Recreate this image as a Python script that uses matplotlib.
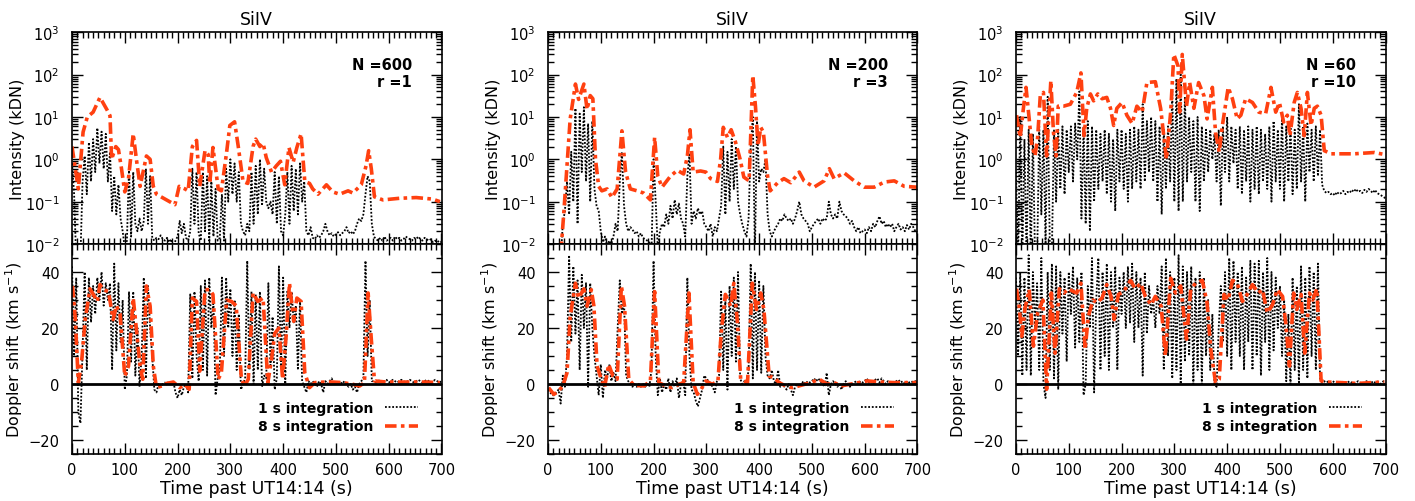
import numpy as np
import matplotlib.pyplot as plt
from matplotlib.ticker import MultipleLocator, LogLocator, FuncFormatter, NullFormatter

plt.rcParams['font.family'] = ['DejaVu Sans']
plt.rcParams['mathtext.fontset'] = 'dejavusans'

RED = '#ff4010'

# ---- panel labels ----
N_vals = [600, 200, 60]
r_vals = [1, 3, 10]

# ---- 1 s integration (sampled every 4 s, 0..700 s) ----
int1_1s = [0.8, 0.15, 0.004, 0.004, 0.005, 0.3, 1.2, 0.15, 2.5, 0.3,
           3, 0.5, 5.5, 0.8, 4.5, 0.6, 4, 0.3, 1.5, 0.06,
           0.4, 0.05, 0.25, 0.04, 0.02, 0.008, 0.012, 0.6, 0.015, 0.5,
           0.03, 0.02, 0.04, 0.02, 0.035, 0.6, 0.03, 0.4, 0.014, 0.012,
           0.014, 0.013, 0.016, 0.013, 0.012, 0.014, 0.011, 0.013, 0.008, 0.012,
           0.015, 0.035, 0.018, 0.03, 0.014, 0.012, 0.02, 0.6, 0.03, 0.5,
           0.018, 0.012, 0.5, 0.02, 0.4, 0.012, 0.3, 0.015, 0.2, 0.012,
           0.014, 0.15, 0.012, 0.6, 0.1, 1.0, 0.15, 0.8, 0.1, 0.5,
           0.03, 0.02, 0.016, 0.03, 0.02, 0.5, 0.03, 0.7, 0.05, 1.0,
           0.08, 0.6, 0.1, 0.07, 0.1, 0.05, 0.5, 0.03, 0.4, 0.02,
           0.016, 0.05, 0.5, 0.03, 0.7, 0.06, 0.6, 0.05, 0.8, 0.1,
           0.3, 0.02, 0.016, 0.025, 0.014, 0.013, 0.016, 0.014, 0.016, 0.02,
           0.03, 0.02, 0.016, 0.018, 0.015, 0.017, 0.019, 0.016, 0.018, 0.02,
           0.025, 0.018, 0.02, 0.017, 0.02, 0.03, 0.04, 0.035, 0.05, 0.15,
           0.4, 0.3, 0.03, 0.015, 0.013, 0.012, 0.014, 0.012, 0.015, 0.012,
           0.013, 0.014, 0.012, 0.015, 0.013, 0.014, 0.012, 0.013, 0.015, 0.014,
           0.013, 0.012, 0.014, 0.013, 0.015, 0.013, 0.012, 0.014, 0.013, 0.012,
           0.013, 0.011, 0.012, 0.011, 0.012, 0.011]
dop1_1s = [42, 10, 38, -10, -14, 12, 40, 5, 38, 22,
           35, 25, 38, 30, 40, 28, 36, 30, 36, 5,
           43, 12, 36, 15, 30, -2, 3, 33, 8, 33,
           3, 20, -1, 10, 38, 2, 35, 20, 10, -2,
           -3, 0, -1, 0, 0.5, 0, 1, 0, 1, -3,
           -5, -2, -4, -1, 0, -3, 32, 2, 33, 10,
           1, 35, 5, 37, 3, 38, 20, 30, -4, 2,
           5, 38, 10, 38, 20, 34, 10, 30, 5, 25,
           -2, 0, 2, 44, 5, 33, 0, 32, 5, 33,
           -1, 3, 2, 36, 6, 24, -2, 2, 42, 5,
           38, 0, 33, 20, 33, 22, 28, 5, 30, 1,
           -1, -3, 1, 0, 1, 0, -1, 1, 0, -3,
           1, 0, 1, 2, 0, 1, 0, 1, 0, 1,
           0, -1, 0, -2, -1, -3, 0, 1, 2, 44,
           10, 30, 1, 1, 0.5, 1, 1.5, 0.5, 1, 1.5,
           0.5, 1, 1.5, 1, 0.5, 1, 1.5, 1, 0.5, 1,
           1.5, 1, 0.5, 1, 1.5, 1, 0.5, 1, 1.5, 1,
           0.5, 1, 1.5, 1, 0.5, 1]
int2_1s = [0.004, 0.004, 0.004, 0.004, 0.004, 0.004, 0.004, 0.03, 0.06, 0.3,
           0.05, 1.5, 0.1, 16, 0.03, 12, 0.5, 17, 0.3, 7,
           0.1, 8, 0.2, 0.08, 0.06, 0.02, 0.011, 0.015, 0.009, 0.012,
           0.01, 0.015, 0.03, 0.02, 0.3, 1.5, 0.08, 0.03, 0.02, 0.025,
           0.022, 0.018, 0.02, 0.015, 0.018, 0.014, 0.013, 0.012, 0.011, 0.006,
           1.0, 0.1, 0.008, 0.02, 0.03, 0.025, 0.05, 0.03, 0.08, 0.04,
           0.11, 0.05, 0.09, 0.04, 0.03, 0.015, 0.4, 1.3, 0.03, 0.06,
           0.04, 0.07, 0.05, 0.06, 0.03, 0.025, 0.02, 0.03, 0.015, 0.025,
           0.02, 0.04, 0.08, 2, 0.05, 1.5, 0.1, 3, 0.2, 2,
           0.1, 0.05, 0.03, 0.02, 0.015, 0.04, 2, 10, 0.006, 8,
           0.3, 0.6, 0.5, 1, 0.05, 0.02, 0.015, 0.02, 0.025, 0.03,
           0.04, 0.035, 0.05, 0.04, 0.035, 0.04, 0.03, 0.04, 0.06, 0.1,
           0.05, 0.04, 0.035, 0.03, 0.02, 0.025, 0.03, 0.035, 0.04, 0.03,
           0.04, 0.035, 0.04, 0.1, 0.05, 0.04, 0.05, 0.04, 0.1, 0.06,
           0.05, 0.045, 0.04, 0.03, 0.035, 0.025, 0.02, 0.025, 0.018, 0.02,
           0.022, 0.018, 0.025, 0.02, 0.03, 0.025, 0.035, 0.045, 0.03, 0.035,
           0.025, 0.03, 0.025, 0.03, 0.02, 0.025, 0.03, 0.022, 0.025, 0.02,
           0.028, 0.022, 0.03, 0.025, 0.02, 0.018]
dop2_1s = [-2, -3, -4, -4, -3, -2, -7, 3, -1, 10,
           46, 15, 42, 18, 37, 5, 39, 20, 36, -1,
           36, 20, 10, 3, -4, 7, -5, 5, 2, 7,
           1, 4, 1, 20, 37, 25, 30, 3, 1, 0,
           -1, 0, -1, 0, -1, 0, -1, 0, -1, 5,
           44, 10, -4, 2, -3, 0, -2, 2, -3, 1,
           -1, 2, -5, 0, 1, -4, 38, 10, -2, -3,
           -6, -8, -5, -2, 3, 2, 1, 0, -1, -3,
           1, 3, 33, 5, 30, -2, 35, 10, 38, 8,
           40, 2, 0, 1, 0, 5, 43, 2, 40, 5,
           37, 4, 35, 10, 3, 2, 5, 1, 0, 5,
           -1, 0, -1, -2, 0, -2, -4, -1, 0, -1,
           0, 1, 0, 1, 0.5, 1, 2, 1, 2, 1,
           0, -1, 4, -4, 0, 1, 0, -1, 0, -2,
           0, 1, 0, -1, 0, 0.5, 1, 0, 1, 0.5,
           1, 2, 0.5, 1, 0, 1.5, 2, 0.5, 2, 1,
           0, 1, 0.5, 1, 0.5, 1, 1.5, 0.5, 1, 0,
           1, 0.5, 1, 0.5, 1, 0.5]
int3_1s = [0.5, 0.004, 10, 0.004, 3, 0.004, 5, 0.004, 4, 0.005,
           0.004, 6, 0.05, 5, 0.01, 30, 0.01, 0.007, 5, 0.1,
           5, 0.2, 6, 0.15, 5, 0.5, 6, 0.3, 7, 1,
           40, 0.04, 6, 0.03, 8, 0.02, 6, 0.1, 5, 0.2,
           4, 0.3, 5, 0.15, 4, 0.1, 3, 0.06, 5, 0.3,
           5, 0.2, 4, 0.1, 5, 0.2, 6, 0.3, 5, 0.2,
           20, 0.3, 8, 0.5, 10, 0.3, 8, 0.1, 6, 0.05,
           5, 0.2, 6, 0.3, 40, 0.1, 80, 0.06, 100, 0.1,
           30, 0.3, 10, 0.5, 8, 0.1, 10, 0.06, 6, 0.3,
           5, 0.5, 5, 1, 4, 0.3, 5, 0.08, 6, 0.5,
           10, 0.3, 6, 0.8, 5, 0.2, 6, 0.15, 5, 0.3,
           6, 0.1, 5, 0.2, 6, 0.15, 5, 0.3, 4, 0.2,
           6, 0.1, 8, 0.3, 5, 0.2, 10, 0.1, 6, 0.3,
           7, 0.15, 5, 0.2, 20, 0.3, 6, 0.1, 7, 0.5,
           5, 0.3, 6, 0.4, 5, 0.25, 0.18, 0.16, 0.17, 0.15,
           0.16, 0.14, 0.17, 0.15, 0.16, 0.18, 0.15, 0.17, 0.16, 0.19,
           0.17, 0.2, 0.17, 0.18, 0.16, 0.19, 0.17, 0.2, 0.18, 0.16,
           0.19, 0.16, 0.15, 0.14, 0.13, 0.12]
dop3_1s = [38, 10, 40, 3, 38, 5, 46, 3, 40, 20,
           36, 5, 45, 0, -5, 40, 5, 43, 2, 42,
           -2, 40, 18, 38, 8, 40, 25, 42, 13, 38,
           15, 40, -4, 0, 35, 20, 45, -3, 30, 45,
           5, 40, 10, 43, 5, 40, 20, 42, 5, 38,
           25, 40, 20, 42, 22, 43, 15, 40, 20, 38,
           3, 40, 18, 35, 25, 30, 20, 35, 25, 42,
           5, 45, 10, 40, 2, 38, 5, 46, 0, 42,
           8, 40, 10, 42, 0, 38, 5, 40, 0, 38,
           10, 30, 5, 25, 0, -1, 20, 35, 15, 40,
           10, 45, 5, 44, 15, 40, 10, 42, 5, 38,
           15, 44, 5, 43, 10, 44, 3, 40, 15, 45,
           5, 40, 12, 38, 20, 35, 10, 30, 1, 25,
           0, 38, 5, 35, 0, 42, 5, 38, 2, 42,
           10, 40, 5, 43, 2, 0.5, 1, 0.5, 1, 0.5,
           1, 0.5, 0, 0.5, 1, 0.5, 0, 0.5, 1, 0.5,
           0, 0.5, 1, 0.5, 0, 0.5, 1, 0.5, 0, 1,
           0.5, 1, 0.5, 0, 1, 0.5]

# ---- 8 s integration (read at turning points) ----
int1_t8 = [0, 12, 21, 29, 40, 53, 66, 72, 75, 83, 88, 93, 100, 107, 116, 122, 129, 141, 148, 154,
           160, 179, 195, 203, 214, 220, 228, 236, 242, 252, 258, 261, 267, 277, 283, 293, 299, 308, 315, 324,
           333, 343, 348, 356, 362, 368, 378, 387, 395, 403, 411, 419, 426, 434, 441, 450, 456, 466, 482, 494,
           507, 523, 532, 548, 557, 562, 567, 573, 589, 620, 652, 683, 697]
int1_8s = [2, 0.2, 4.4, 10, 13, 29, 15, 10.7, 1.0, 2, 1.7, 0.7, 0.17, 0.35, 4, 1.0, 0.23, 1.2, 1.0, 0.23,
           0.15, 0.11, 0.085, 0.23, 0.2, 0.18, 2.0, 2.8, 0.23, 1.6, 1.3, 0.27, 1.9, 0.2, 0.18, 1.5, 6.3, 7.7, 2, 0.3,
           0.27, 2, 3, 2, 2.4, 1.1, 0.5, 0.7, 0.9, 0.25, 1.9, 0.85, 1.9, 4, 0.3, 0.27, 0.2, 0.15, 0.25, 0.17,
           0.15, 0.18, 0.16, 0.25, 0.7, 1.6, 0.6, 0.13, 0.11, 0.12, 0.125, 0.115, 0.1]
dop1_t8 = [1, 6, 12, 18, 25, 34, 43.5, 48, 53, 59, 69, 78, 84, 91, 100, 107, 116, 122, 129, 134,
           141, 148, 154, 160, 170, 179, 192, 204, 214, 222, 228, 236, 242, 252, 261, 267, 277, 283, 293, 302,
           311, 321, 327, 334, 343, 352, 362, 371, 378, 384, 392, 399, 406, 412, 420, 426, 434, 441, 450, 460,
           479, 494, 513, 532, 545, 554, 561, 567, 573, 595, 633, 671, 697]
dop1_8s = [35, 24, 0.5, 7.6, 23, 34, 31, 29.5, 35.5, 33.7, 33, 23, 28, 25, 2.8, 6.4, 30.7, 19.5, 6.4, 1.7,
           35, 27.8, 6.4, -1.3, -0.7, 0.2, 0.7, -1.3, -0.1, -1.9, 30.7, 29.5, 4.6, 33.7, 33.7, 32, 1.7, 4, 30, 29.5,
           28, 1.7, -0.7, 1.7, 32.5, 29.5, 30.7, 0.5, 8.8, 18, 20, 1.7, 18, 36, 22.4, 30.7, 29.5, 4, -1.3, 0.5,
           0.7, 0.7, 0.5, -0.1, -0.7, 0.5, 32.5, 16, 1.1, 0.7, 0.7, 0.7, 0.5]
int2_t8 = [0, 25, 30, 42, 52, 58, 68, 74, 80, 85, 90, 96, 102, 112, 121, 131, 140, 147, 156, 169, 181,
           194, 202, 208, 216, 232, 245, 257, 264, 269, 275, 289, 299, 308, 321, 327, 332, 340, 347, 355, 364,
           371, 381, 388, 393, 398, 403, 408, 416, 421, 435, 447, 460, 476, 485, 504, 523, 533, 542, 561, 580,
           599, 618, 637, 656, 675, 699]
int2_8s = [0.002, 0.008, 0.056, 9, 60, 26, 60, 15, 32, 27, 1.0, 0.23, 0.18, 0.2, 0.125, 0.2, 4.7, 0.5, 0.2, 0.18, 0.16,
           0.11, 3.3, 0.4, 0.22, 0.4, 0.55, 0.45, 1.2, 5, 0.5, 0.53, 0.5, 0.35, 0.3, 1.0, 5.7, 3.3, 5, 2.6, 1.0,
           0.38, 0.31, 95, 18, 2.1, 5.7, 4.4, 0.4, 0.18, 0.28, 0.35, 0.28, 0.5, 0.31, 0.22, 0.31, 0.6, 0.35, 0.48, 0.31,
           0.22, 0.22, 0.29, 0.31, 0.23, 0.22]
dop2_t8 = [1, 11, 20, 28, 36, 42, 52, 58, 68, 74, 82, 87, 93, 101, 107, 115, 123, 131, 139, 145,
           153, 163, 182, 194, 202, 210, 223, 235, 248, 257, 267, 275, 283, 290, 299, 311, 322, 328, 336, 346,
           352, 359, 365, 378, 387, 395, 403, 409, 419, 428, 438, 450, 463, 479, 498, 514, 529, 542, 555, 580,
           605, 631, 656, 699]
dop2_8s = [-1.3, -3.7, -2.5, -0.7, 4, 24, 36, 30.7, 34, 27.8, 33.7, 27.8, 6.4, 1.7, -1.3, 7, 2.8, 1.7, 35, 27.8,
           1.7, -0.5, -0.7, 1.1, 33, 0.5, -0.7, -1.3, -0.1, 0.5, 32.5, 0.5, -3.7, -1.9, 1.1, -0.1, 1.1, 18, 32, 27.8,
           36, 21.8, 1.7, 0.5, 36, 26.6, 32.5, 26.6, 2.8, 2.3, 0.5, -0.7, -1.3, -0.5, 0.5, 1.7, -0.1, 0.5, -0.7, 0.2,
           1.1, 0.7, 0.5, 0.5]
int3_t8 = [1, 8, 14, 19, 23, 30, 36, 41, 46, 52, 58, 66, 71, 76, 80, 90, 103, 115, 123, 129,
           134, 141, 147, 155, 163, 172, 179, 185, 191, 201, 210, 220, 229, 239, 248, 264, 274, 285, 293, 299,
           307, 310, 315, 323, 329, 337, 346, 356, 362, 372, 378, 385, 391, 402, 410, 419, 426, 435, 448, 460,
           473, 483, 492, 499, 507, 514, 519, 527, 533, 540, 546, 552, 559, 565, 571, 578, 584, 597, 616, 641,
           660, 679, 698]
int3_8s = [11, 3.3, 16, 50, 16, 2.1, 1.2, 3.3, 32, 38, 1.2, 72, 4.3, 1.2, 18, 18, 20, 38, 110, 3.6,
           16, 35, 24, 35, 27, 29, 16, 6.3, 16, 22, 11, 7, 18, 13, 65, 68, 16, 1.0, 13, 300,
           160, 13, 300, 18, 65, 16, 65, 32, 9, 50, 4.3, 1.5, 6.3, 50, 27, 9, 11, 27, 22, 13,
           12, 50, 13, 22, 7.6, 11, 3.6, 22, 38, 16, 3.6, 38, 6.3, 16, 18, 11, 1.6, 1.35, 1.35, 1.35,
           1.4, 1.45, 1.3]
dop3_t8 = [1, 6, 11, 17, 25, 33, 41, 51, 58, 67, 74, 82, 91, 99, 109, 115, 123, 131, 137, 146,
           153, 163, 172, 180, 186, 194, 204, 217, 226, 236, 245, 256, 264, 275, 283, 293, 302, 312, 323, 331,
           340, 353, 362, 369, 378, 385, 394, 402, 410, 419, 429, 438, 448, 459, 467, 476, 486, 495, 505, 511,
           518, 526, 532, 540, 547, 556, 562, 570, 578, 590, 616, 647, 673, 698]
dop3_8s = [34, 27.8, 17, 27, 33.7, 13.5, 25.4, 30, -1.9, 32.5, 11, 34, 32.5, 34, 33, 32.5, 36, 12.3, 24.2, 30,
           29, 30.7, 35.5, 31.3, 23, 32, 33, 37, 34, 36, 31.3, 28.3, 31.3, 27.8, 10, 37.8, 32.5, 35, 16, 33.7,
           36, 37, 29, 12.3, 0.5, 1.7, 32, 30, 37, 36, 29.5, 32, 35.5, 32.5, 33.7, 25.4, 28.3, 33.7, 31.3, 21.8,
           6.4, 32.5, 26.6, 32, 11, 32.5, 30, 34, 1.1, 0.7, 0.5, 0.2, 0.5, 0.7]

panels = [
    (int1_1s, dop1_1s, int1_t8, int1_8s, dop1_t8, dop1_8s),
    (int2_1s, dop2_1s, int2_t8, int2_8s, dop2_t8, dop2_8s),
    (int3_1s, dop3_1s, int3_t8, int3_8s, dop3_t8, dop3_8s),
]

W, H = 1415, 502
fig = plt.figure(figsize=(W / 100, H / 100), dpi=100)
lefts = [72, 548, 1016]
aw = 369.5

dot_style = dict(color='black', lw=1.3, ls=(0, (1, 1)))
red_style = dict(color=RED, lw=2.6, ls=(0, (3.2, 1.2, 1.0, 1.2)))


def style_axes(ax):
    ax.tick_params(which='both', direction='in', top=True, right=True, labelsize=10.5)
    ax.tick_params(which='major', length=8, width=1)
    ax.tick_params(which='minor', length=4, width=1)
    ax.tick_params(axis='y', pad=9)
    ax.tick_params(axis='x', pad=6)
    ax.xaxis.set_major_locator(MultipleLocator(100))
    ax.xaxis.set_minor_locator(MultipleLocator(10))
    ax.set_xlim(0, 700)
    for s in ax.spines.values():
        s.set_linewidth(1.2)


for k, (i1, d1, ti8, i8, td8, d8) in enumerate(panels):
    x0 = lefts[k] / W
    axt = fig.add_axes([x0, 1 - 245 / H, aw / W, (245 - 33.3) / H])
    axb = fig.add_axes([x0, 1 - 455 / H, aw / W, 210 / H])

    t1 = np.arange(len(i1)) * 4
    axt.plot(t1, i1, **dot_style)
    axt.plot(ti8, i8, **red_style)
    axt.set_yscale('log')
    axt.set_ylim(1e-2, 1e3)
    style_axes(axt)
    axt.yaxis.set_major_locator(LogLocator(base=10, numticks=10))
    axt.yaxis.set_minor_locator(LogLocator(base=10, subs=np.arange(2, 10), numticks=10))
    axt.yaxis.set_major_formatter(FuncFormatter(lambda v, p: r'$\mathregular{10^{%d}}$' % round(np.log10(v))))
    axt.yaxis.set_minor_formatter(NullFormatter())
    axt.tick_params(labelbottom=False)
    axt.set_ylabel('Intensity (kDN)', fontsize=11.5)
    axt.yaxis.set_label_coords(-0.128, 0.5)
    axt.set_title('SiIV', fontsize=12.5, pad=6)
    axt.text(0.92, 0.885, 'N =%d\nr =%d' % (N_vals[k], r_vals[k]), transform=axt.transAxes,
             ha='right', va='top', fontsize=10.5, fontweight='bold', linespacing=1.2)

    t1d = np.arange(len(d1)) * 4
    axb.plot(t1d, d1, label='1 s integration', **dot_style)
    axb.plot(td8, d8, label='8 s integration', **red_style)
    axb.axhline(0, color='black', lw=2)
    axb.set_ylim(-25, 50)
    style_axes(axb)
    axb.yaxis.set_major_locator(MultipleLocator(20))
    axb.yaxis.set_minor_locator(MultipleLocator(5))
    axb.set_ylabel(r'Doppler shift (km s$^{-1}$)', fontsize=11.5)
    axb.yaxis.set_label_coords(-0.128, 0.5)
    axb.set_xlabel('Time past UT14:14 (s)', fontsize=12.5, labelpad=1)
    axb.legend(loc='lower right', bbox_to_anchor=(0.955, 0.065), frameon=False, markerfirst=False,
               handlelength=2.4, handletextpad=0.8, labelspacing=0.3, borderpad=0,
               prop={'weight': 'bold', 'size': 10})

fig.savefig('out.png', dpi=100)
